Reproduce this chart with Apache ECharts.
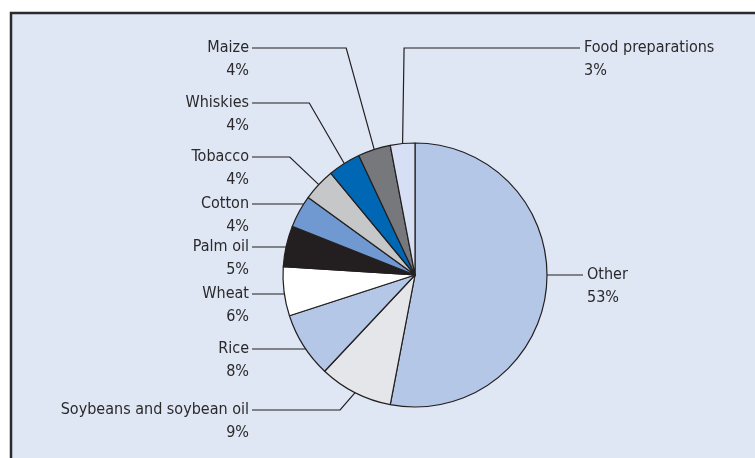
<!DOCTYPE html>
<html>
<head>
<meta charset="utf-8">
<script src="https://cdn.jsdelivr.net/npm/echarts@6/dist/echarts.min.js"></script>
<style>
  html, body { margin: 0; padding: 0; background: #ffffff; }
  #chart { width: 755px; height: 458px; }
</style>
</head>
<body>
<div id="chart"></div>
<script>
// ---- data ----
const categories = ['Other', 'Soybeans and soybean oil', 'Rice', 'Wheat', 'Palm oil', 'Cotton', 'Tobacco', 'Whiskies', 'Maize', 'Food preparations'];
const shares = [53, 9, 8, 6, 5, 4, 4, 4, 4, 3];

// ---- styles / layout ----
const sliceColors = ['#b4c7e7', '#e5e6e9', '#b4c7e7', '#ffffff', '#231f20', '#7099d2', '#c6c7c9', '#0067b4', '#77787b', '#d6dff3'];
const labelSide = ['right', 'left', 'left', 'left', 'left', 'left', 'left', 'left', 'left', 'right'];
const labelLineY = [275, 410, 349, 294, 247, 204, 157, 103, 48, 48];
const lineKind = ['flat', 'elbow', 'flat', 'flat', 'flat', 'flat', 'elbow', 'elbow', 'elbow', 'elbow'];
const kinkDx = [0, -15, 0, 0, 0, 0, -29, -35, -28, 1.5];
const rightLineEnd = [583, 0, 0, 0, 0, 0, 0, 0, 0, 580];

const CX = 415, CY = 275, R = 132;
const LEFT_TEXT_X = 249, LEFT_LINE_END = 252, TEXT_GAP = 4, LINE_H = 23;

const total = shares.reduce((a, b) => a + b, 0);
const midAngles = [];
let cum = 0;
shares.forEach(v => { midAngles.push((cum + v / 2) / total * 2 * Math.PI); cum += v; });

const chart = echarts.init(document.getElementById('chart'), null, { renderer: 'canvas' });

chart.setOption({
  backgroundColor: '#ffffff',
  animation: false,
  graphic: [{
    type: 'rect',
    z: 0,
    shape: { x: 11, y: 13, width: 800, height: 500 },
    style: { fill: '#dfe6f4', stroke: '#2b2b2d', lineWidth: 2.5 }
  }],
  series: [{
    type: 'pie',
    z: 2,
    center: [CX, CY],
    radius: [0, R],
    startAngle: 90,
    clockwise: true,
    avoidLabelOverlap: false,
    data: categories.map((name, i) => ({
      name: name,
      value: shares[i],
      itemStyle: { color: sliceColors[i] }
    })),
    itemStyle: { borderColor: '#231f20', borderWidth: 1.2 },
    emphasis: { disabled: true },
    label: {
      show: true,
      position: 'outside',
      formatter: '{b}\n{c}%',
      fontFamily: '"DejaVu Sans Condensed", "Liberation Sans", sans-serif',
      fontSize: 16,
      lineHeight: LINE_H,
      color: '#2a292b',
      overflow: 'none'
    },
    labelLine: {
      show: true,
      length: 10,
      length2: 10,
      lineStyle: { color: '#231f20', width: 1.2 }
    },
    labelLayout: function (params) {
      const i = params.dataIndex;
      const a = midAngles[i];
      const ly = labelLineY[i];
      const isRight = labelSide[i] === 'right';
      let start;
      if (lineKind[i] === 'flat') {
        const dy = ly - CY;
        const dx = Math.sqrt(Math.max(R * R - dy * dy, 0));
        start = [isRight ? CX + dx : CX - dx, ly];
      } else {
        start = [CX + R * Math.sin(a), CY - R * Math.cos(a)];
      }
      const kink = lineKind[i] === 'flat' ? start.slice() : [start[0] + kinkDx[i], ly];
      const endX = isRight ? rightLineEnd[i] : LEFT_LINE_END;
      const textX = isRight ? rightLineEnd[i] + TEXT_GAP : LEFT_TEXT_X;
      return {
        x: textX,
        y: ly - LINE_H / 2,
        align: isRight ? 'left' : 'right',
        verticalAlign: 'top',
        labelLinePoints: [start, kink, [endX, ly]]
      };
    }
  }]
});
</script>
</body>
</html>
